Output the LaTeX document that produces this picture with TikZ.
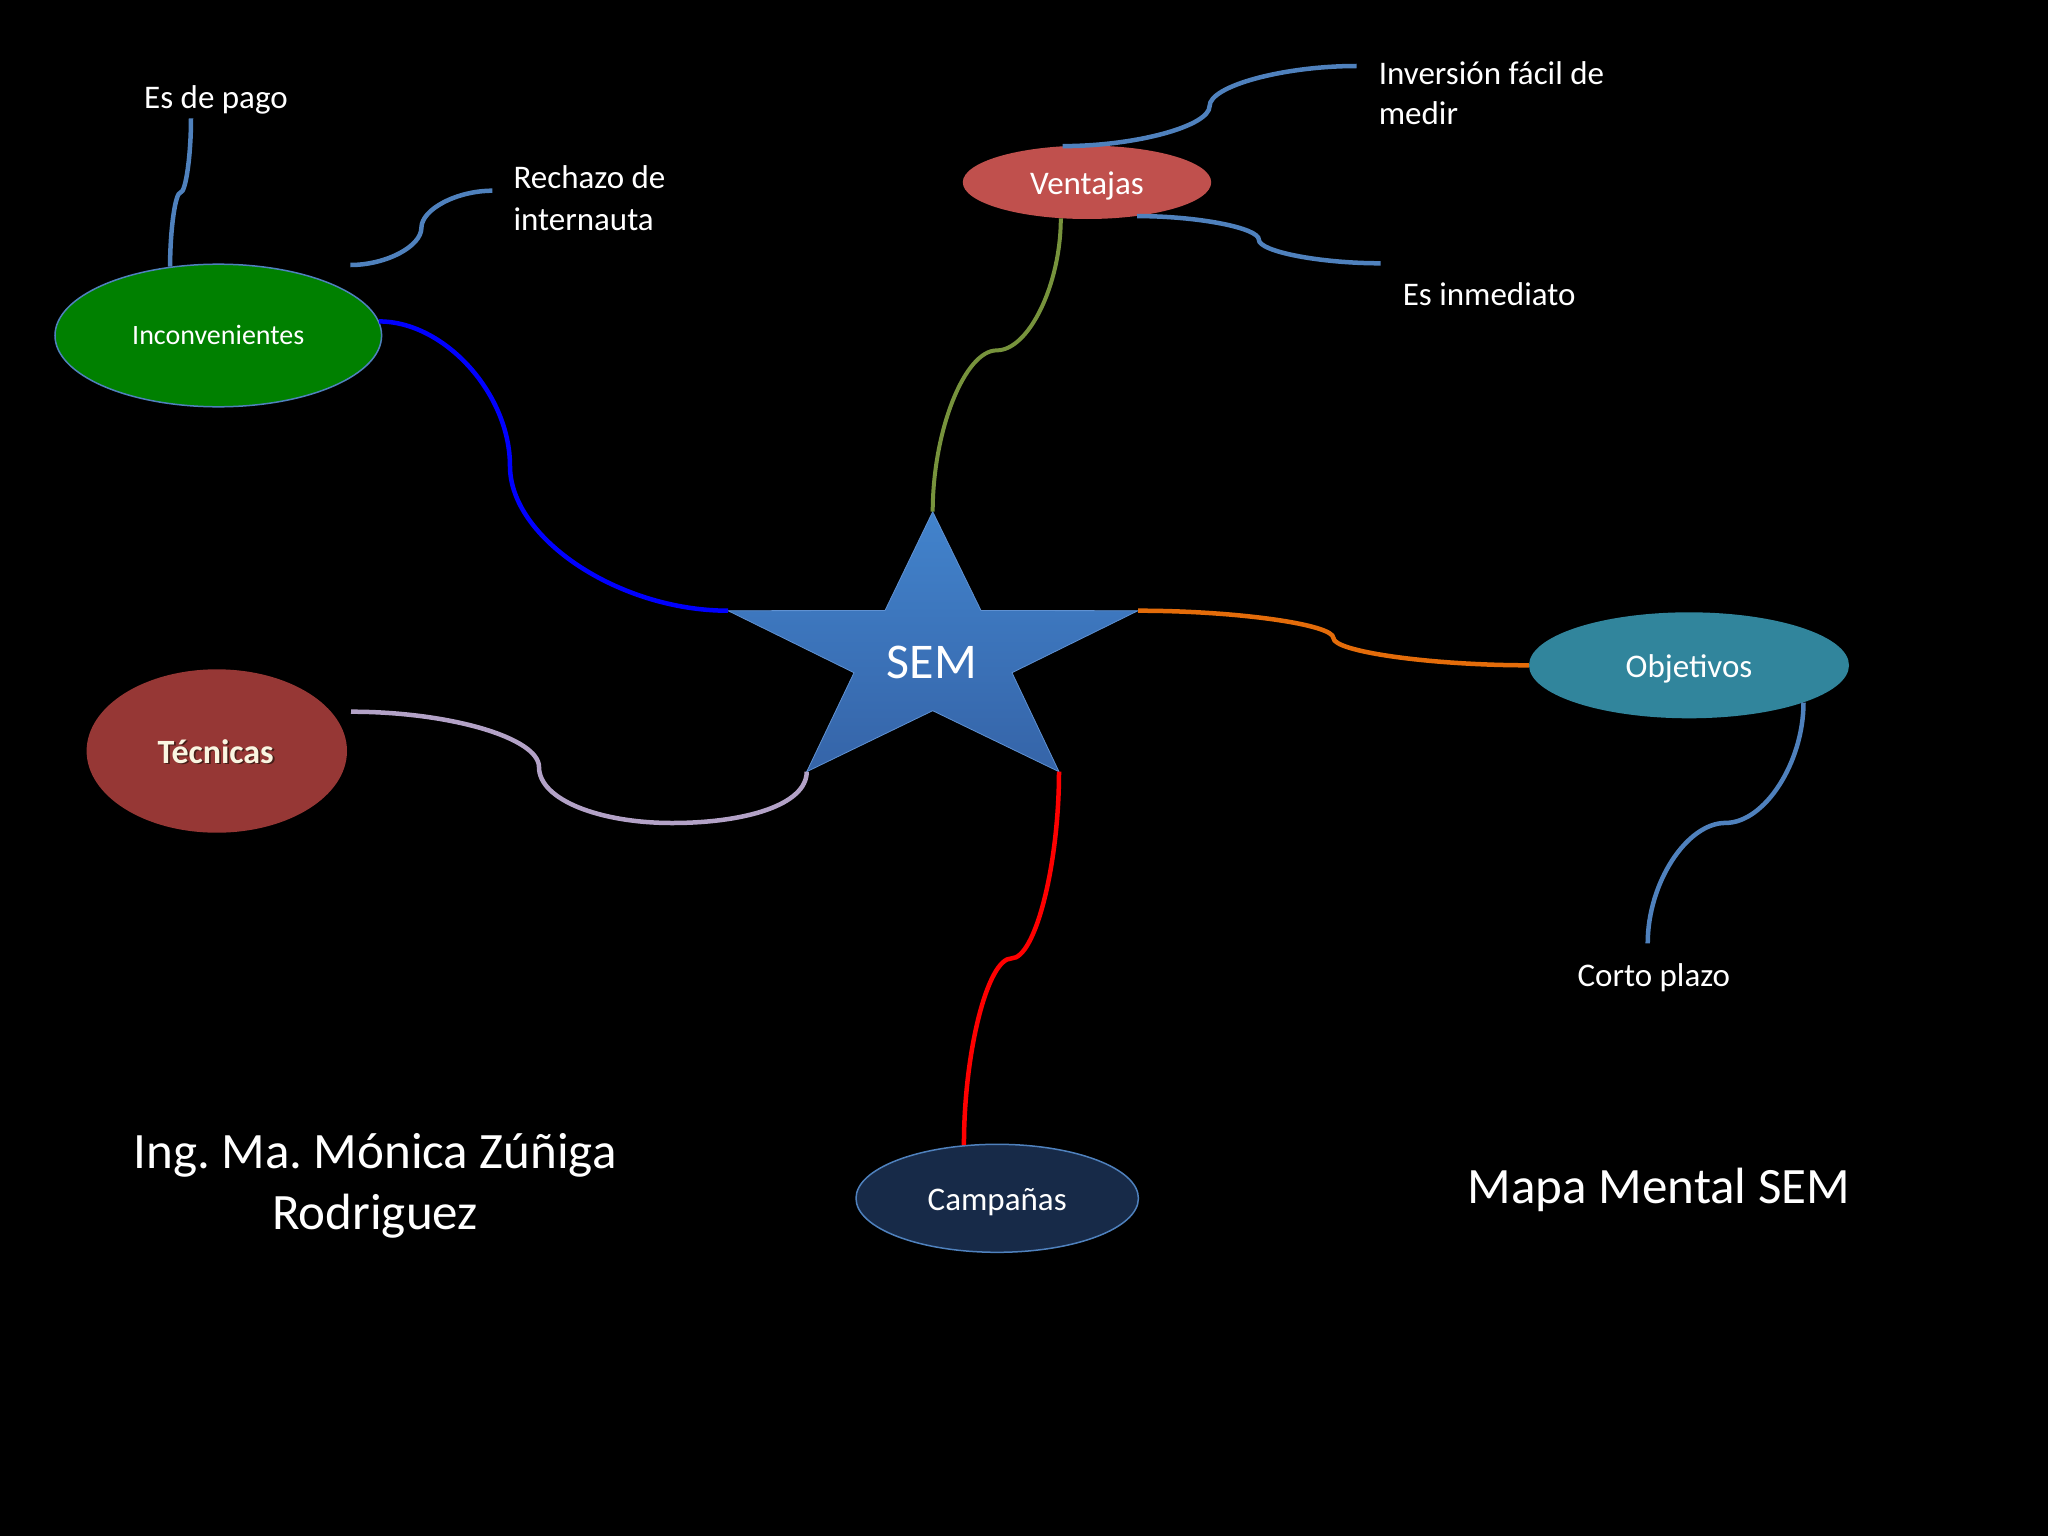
\documentclass[tikz,border=0pt]{standalone}
\usepackage{fontspec}
\setmainfont{Carlito}
\frenchspacing
\usetikzlibrary{shapes.geometric,calc}
\definecolor{lineblue}{RGB}{79,129,189}
\definecolor{incgreen}{RGB}{0,128,0}
\definecolor{venred}{RGB}{192,80,77}
\definecolor{objteal}{RGB}{49,133,156}
\definecolor{tecred}{RGB}{150,55,53}
\definecolor{camnavy}{RGB}{23,42,72}
\definecolor{starTop}{RGB}{66,131,204}
\definecolor{starBot}{RGB}{53,100,168}
\definecolor{starEdge}{RGB}{95,145,210}
\definecolor{olivegreen}{RGB}{119,147,60}
\definecolor{connorange}{RGB}{228,108,10}
\definecolor{lavender}{RGB}{179,162,199}
\definecolor{cream}{RGB}{250,245,225}
\definecolor{shadowbrown}{RGB}{70,30,25}
% horizontal-ended curved connector (vertical in the middle)
\newcommand\hconn[4][0.5]{%
  \draw[#2] let \p1=(#3), \p2=(#4) in (\p1)
    .. controls ({\x1+#1*(\x2-\x1)/2},\y1) and ({\x1+#1*(\x2-\x1)},{\y1+(\y2-\y1)/4}) ..
    ({\x1+#1*(\x2-\x1)},{(\y1+\y2)/2})
    .. controls ({\x1+#1*(\x2-\x1)},{\y1+3*(\y2-\y1)/4}) and ({(\x2+\x1+#1*(\x2-\x1))/2},\y2) .. (\p2);}
% vertical-ended curved connector (horizontal in the middle)
\newcommand\vconn[4][0.5]{%
  \draw[#2] let \p1=(#3), \p2=(#4) in (\p1)
    .. controls (\x1,{\y1+#1*(\y2-\y1)/2}) and ({\x1+(\x2-\x1)/4},{\y1+#1*(\y2-\y1)}) ..
    ({(\x1+\x2)/2},{\y1+#1*(\y2-\y1)})
    .. controls ({\x1+3*(\x2-\x1)/4},{\y1+#1*(\y2-\y1)}) and (\x2,{(\y2+\y1+#1*(\y2-\y1))/2}) .. (\p2);}
\tikzset{
  bubble/.style={ellipse, inner sep=0pt, text=white, font=\fontsize{33}{40}\selectfont,
                 text height=25pt, text depth=0pt},
  lbl/.style={inner sep=0pt, text=white, font=\fontsize{33}{40}\selectfont},
  biglbl/.style={inner sep=0pt, text=white, font=\fontsize{51}{61}\selectfont},
  conn/.style={line width=4.5pt, line cap=butt},
}
\begin{document}
\begin{tikzpicture}[x=1pt,y=-1pt]
\fill[black] (0,0) rectangle (2048,1536);
\useasboundingbox (0,0) rectangle (2048,1536);

% ---- star ----
\coordinate (sT) at (932.7,511.7);
\coordinate (sUR) at (981,610.5);
\coordinate (sR) at (1138,610.7);
\coordinate (sLR) at (1012,672.7);
\coordinate (sBR) at (1059,771.7);
\coordinate (sB) at (932.7,710.7);
\coordinate (sBL) at (806.7,771.7);
\coordinate (sLL) at (854,672.7);
\coordinate (sL) at (728,610.7);
\coordinate (sUL) at (885,610.5);
\shade[top color=starTop, bottom color=starBot, draw=starEdge, line width=0.8pt]
  (sT) -- (sUR) -- (sR) -- (sLR) -- (sBR) -- (sB) -- (sBL) -- (sLL) -- (sL) -- (sUL) -- cycle;
\node[inner sep=0pt, text=white, font=\fontsize{50}{60}\selectfont, anchor=base] (sem) at (932,678.3) {SEM};

% ---- bubbles ----
\node[bubble, fill=incgreen, draw=lineblue, line width=1.5pt, minimum width=326.6pt, minimum height=142.6pt,
      font=\fontsize{28}{34}\selectfont, text height=18pt] (inc) at (218.3,335.5) {Inconvenientes};
\node[bubble, fill=venred, minimum width=248.4pt, minimum height=73.4pt] (ven) at (1087,182.3) {Ventajas};
\node[bubble, fill=objteal, minimum width=320pt, minimum height=106pt] (obj) at (1689,665.3) {Objetivos};
\node[bubble, fill=tecred, minimum width=260.4pt, minimum height=163.4pt] (tec) at (216.8,751) {};
\node[inner sep=0pt, text=shadowbrown, font=\bfseries\fontsize{34}{40}\selectfont, anchor=base] at (217.5,764.5) {Técnicas};
\node[inner sep=0pt, text=cream, font=\bfseries\fontsize{34}{40}\selectfont, anchor=base] (tect) at (215.7,763) {Técnicas};
\node[bubble, fill=camnavy, draw=lineblue, line width=1.5pt, minimum width=282.4pt, minimum height=108pt] (cam) at (997.2,1198.3) {Campañas};

% ---- labels ----
\node[lbl, anchor=base] (pago) at (216,108.3) {Es de pago};
\node[lbl, anchor=base west] (rech1) at (513.4,189) {Rechazo de};
\node[lbl, anchor=base west] (rech2) at (513.4,230) {internauta};
\node[lbl, anchor=base west] (inv1) at (1378.6,84.3) {Inversión fácil de};
\node[lbl, anchor=base west] (inv2) at (1378.6,124.3) {medir};
\node[lbl, anchor=base west] (inm) at (1402.6,305.5) {Es inmediato};
\node[lbl, anchor=base] (corto) at (1653.8,986) {Corto plazo};
\node[biglbl, anchor=base] (auth1) at (375,1168.3) {Ing. Ma. Mónica Zúñiga};
\node[biglbl, anchor=base] (auth2) at (375,1229.5) {Rodriguez};
\node[biglbl, anchor=base] (mapa) at (1659,1203) {Mapa Mental SEM};

% ---- free ends of sub-connectors ----
\coordinate (pagoEnd) at (191,118.3);
\coordinate (rechStart) at (350.4,265);
\coordinate (rechEnd) at (492.4,190.7);
\coordinate (invEnd) at (1356.6,66);
\coordinate (inmEnd) at (1380.6,263.3);
\coordinate (cortoEnd) at (1647.7,943.3);
\coordinate (tecEnd) at (351,711.7);

% ---- main connectors ----
\hconn[0.375]{conn, blue}{inc.5}{sL}
\vconn[0.55]{conn, olivegreen, line width=4pt}{sT}{ven.234}
\hconn{conn, connorange}{sR}{obj.west}
\vconn{conn, red}{sBR}{cam.122}
\draw[conn, lavender] (tecEnd) .. controls (450,711.7) and (539,738) .. (539,767)
  .. controls (539,800) and (600,823) .. (672,823)
  .. controls (745,823) and (806.7,805) .. (sBL);

% ---- sub connectors ----
\vconn{conn, lineblue}{inc.125}{pagoEnd}
\hconn{conn, lineblue}{rechStart}{rechEnd}
\hconn{conn, lineblue}{ven.124}{invEnd}
\hconn{conn, lineblue}{ven.326}{inmEnd}
\vconn{conn, lineblue}{obj.342}{cortoEnd}
\end{tikzpicture}
\end{document}
